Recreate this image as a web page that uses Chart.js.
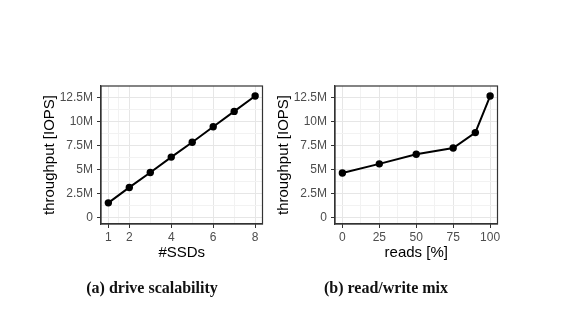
<!DOCTYPE html>
<html><head><meta charset="utf-8">
<script src="https://cdn.jsdelivr.net/npm/chart.js@4/dist/chart.umd.min.js"></script>
<style>
html,body{margin:0;padding:0;background:#fff;}
#wrap{position:relative;width:563px;height:315px;overflow:hidden;}
canvas{position:absolute;left:0;top:0;}
.cap{position:absolute;top:279px;font-family:"Liberation Serif","DejaVu Serif",serif;font-weight:bold;font-size:16px;color:#111;white-space:nowrap;transform:translateX(-50%);}
</style></head><body>
<div id="wrap">
<canvas id="c1" width="563" height="315"></canvas>
<canvas id="c2" width="563" height="315"></canvas>
<div class="cap" style="left:152px">(a) drive scalability</div>
<div class="cap" style="left:386px">(b) read/write mix</div>
</div>
<script>
// ---- data (throughput in millions of IOPS) ----
const ssdCounts = [1, 2, 3, 4, 5, 6, 7, 8];
const ssdThroughput = [1.55, 3.15, 4.7, 6.3, 7.85, 9.45, 11.05, 12.65];
const readPercents = [0, 25, 50, 75, 90, 100];
const mixThroughput = [4.65, 5.6, 6.6, 7.25, 8.85, 12.65];
// ---- ticks ----
const ssdMajorTicks = [1, 2, 4, 6, 8];
const ssdMinorTicks = [1.5, 3, 5, 7];
const readMajorTicks = [0, 25, 50, 75, 100];
const readMinorTicks = [12.5, 37.5, 62.5, 87.5];
const yMajorTicks = [0, 2.5, 5, 7.5, 10, 12.5];
const yMinorTicks = [1.25, 3.75, 6.25, 8.75, 11.25];
const yTickLabels = ['0', '2.5M', '5M', '7.5M', '10M', '12.5M'];

const SANS = '"Liberation Sans", Arial, Helvetica, sans-serif';
const MAJOR_GRID = '#E6E6E6', MINOR_GRID = '#F2F2F2', DARK = '#333333';

const boxPlugin = {
  id: 'box',
  afterDatasetsDraw(chart) {
    const a = chart.chartArea, ctx = chart.ctx;
    ctx.save();
    ctx.strokeStyle = DARK; ctx.lineWidth = 1.2;
    ctx.strokeRect(a.left, a.top, a.right - a.left, a.bottom - a.top);
    ctx.restore();
  }
};

function makeChart(id, xs, ys, xMin, xMax, xMajor, xMinor, xTitle, padLeft, padRight) {
  const majX = new Set(xMajor), majY = new Set(yMajorTicks);
  const xTicks = [...xMajor, ...xMinor].sort((a, b) => a - b);
  const yTicks = [...yMajorTicks, ...yMinorTicks].sort((a, b) => a - b);
  return new Chart(document.getElementById(id), {
    type: 'line',
    data: { datasets: [{
      data: xs.map((x, i) => ({ x: x, y: ys[i] })),
      borderColor: '#000', backgroundColor: '#000', borderWidth: 2,
      pointRadius: 3.7, pointBackgroundColor: '#000', pointBorderWidth: 0, tension: 0
    }]},
    plugins: [boxPlugin],
    options: {
      responsive: false, animation: false, devicePixelRatio: 1,
      layout: { padding: { left: padLeft, right: padRight, top: 86, bottom: 53 } },
      plugins: { legend: { display: false }, tooltip: { enabled: false } },
      scales: {
        x: {
          type: 'linear', min: xMin, max: xMax,
          afterBuildTicks: s => { s.ticks = xTicks.map(v => ({ value: v })); },
          afterFit: s => { s.height = 38; },
          ticks: {
            autoSkip: false, maxRotation: 0, padding: 2, color: '#4D4D4D',
            font: { family: SANS, size: 12 },
            callback: v => majX.has(v) ? String(v) : ''
          },
          grid: {
            color: c => majX.has(c.tick.value) ? MAJOR_GRID : MINOR_GRID,
            tickColor: c => majX.has(c.tick.value) ? DARK : 'rgba(0,0,0,0)',
            tickLength: 4, lineWidth: 1
          },
          border: { display: true, color: DARK, width: 1.2 },
          title: { display: true, text: xTitle, color: '#000', padding: { top: 0, bottom: 0 },
                   font: { family: SANS, size: 15 } }
        },
        y: {
          type: 'linear', min: -0.65, max: 13.69,
          afterBuildTicks: s => { s.ticks = yTicks.map(v => ({ value: v })); },
          afterFit: s => { s.width = 62; },
          ticks: {
            autoSkip: false, padding: 4, color: '#4D4D4D',
            font: { family: SANS, size: 12 },
            callback: v => majY.has(v) ? yTickLabels[yMajorTicks.indexOf(v)] : ''
          },
          grid: {
            color: c => majY.has(c.tick.value) ? MAJOR_GRID : MINOR_GRID,
            tickColor: c => majY.has(c.tick.value) ? DARK : 'rgba(0,0,0,0)',
            tickLength: 4, lineWidth: 1
          },
          border: { display: true, color: DARK, width: 1.2 },
          title: { display: true, text: 'throughput [IOPS]', color: '#000', padding: { top: 2, bottom: 0 },
                   font: { family: SANS, size: 15 } }
        }
      }
    }
  });
}

makeChart('c1', ssdCounts, ssdThroughput, 0.65, 8.35, ssdMajorTicks, ssdMinorTicks, '#SSDs', 39, 300.5);
makeChart('c2', readPercents, mixThroughput, -5, 105, readMajorTicks, readMinorTicks, 'reads [%]', 273, 65.5);
</script>
</body></html>
